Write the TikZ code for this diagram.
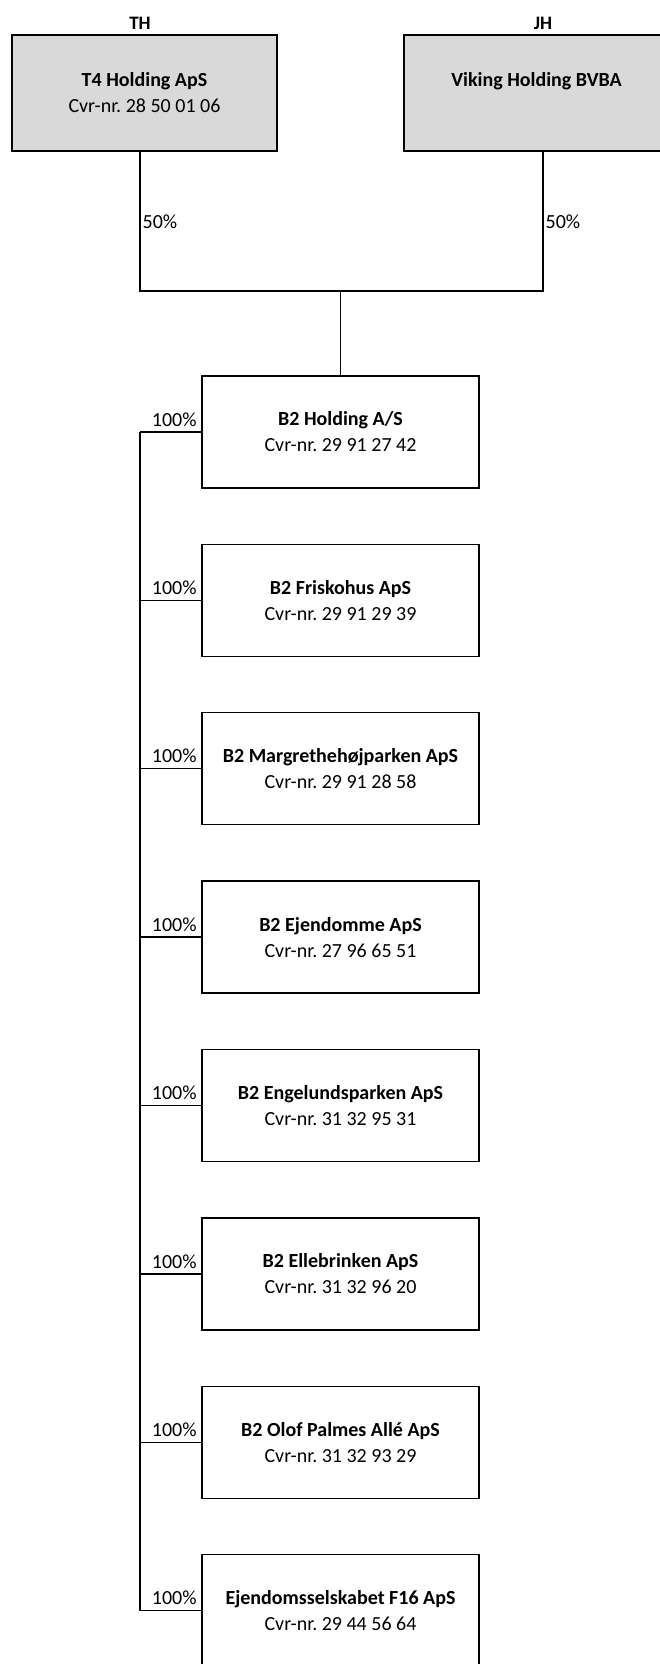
\documentclass[tikz,border=0pt]{standalone}
\usepackage{fontspec}
\setmainfont{Carlito}
\usepackage{tikz}
\usetikzlibrary{positioning, calc}

\begin{document}
\frenchspacing
\begin{tikzpicture}[
  x=1pt, y=1pt,
  every node/.style={font=\fontsize{20}{26}\selectfont, align=center},
  owner/.style={draw, line width=1.4pt, fill=black!15, minimum width=265pt,
                minimum height=116pt},
  firm/.style={draw, line width=1.4pt, fill=white, minimum width=277pt,
               minimum height=112pt},
  link/.style={line width=1.4pt},
  pct/.style={inner sep=2pt},
  pctl/.style={anchor=south east, inner sep=2pt, xshift=-2pt, yshift=3pt}
]
  \clip (0,0) rectangle (660,1664);

  % owners
  \node[font=\fontsize{19}{22}\selectfont\bfseries] (th) at (140,1641) {TH};
  \node[font=\fontsize{19}{22}\selectfont\bfseries] (jh) at (543,1641) {JH};
  \node[owner] (t4) at (144.5,1571) {\textbf{T4 Holding ApS}\\Cvr-nr. 28 50 01 06};
  \node[owner] (viking) at (536.5,1571) {\textbf{Viking Holding BVBA}\\\phantom{Cvr-nr. 28 50 01 06}};
  \coordinate (join) at (342,1373);

  % group
  \node[firm] (b2hold) at (340.5,1232) {\textbf{B2 Holding A/S}\\Cvr-nr. 29 91 27 42};
  \node[firm, below=55pt of b2hold] (frisko) {\textbf{B2 Friskohus ApS}\\Cvr-nr. 29 91 29 39};
  \node[firm, below=55pt of frisko] (margr) {\textbf{B2 Margrethehøjparken ApS}\\Cvr-nr. 29 91 28 58};
  \node[firm, below=55pt of margr] (ejend) {\textbf{B2 Ejendomme ApS}\\Cvr-nr. 27 96 65 51};
  \node[firm, below=55pt of ejend] (engel) {\textbf{B2 Engelundsparken ApS}\\Cvr-nr. 31 32 95 31};
  \node[firm, below=55pt of engel] (elleb) {\textbf{B2 Ellebrinken ApS}\\Cvr-nr. 31 32 96 20};
  \node[firm, below=55pt of elleb] (olof) {\textbf{B2 Olof Palmes Allé ApS}\\Cvr-nr. 31 32 93 29};
  \node[firm, below=55pt of olof] (f16) {\textbf{Ejendomsselskabet F16 ApS}\\Cvr-nr. 29 44 56 64};

  % ownership lines
  \draw[link] (th |- t4.south) -- node[pct, right]{50\%} (th |- join)
    -- (jh |- join) -- node[pct, right]{50\%} (jh |- viking.south);
  \draw[link] (b2hold.north |- join) -- (b2hold.north);

  \draw[link] (b2hold.west -| th) -- (f16.west -| th);
  \draw[link] (b2hold.west -| th) -- (b2hold.west) node[pctl]{100\%};
  \draw[link] (frisko.west -| th) -- (frisko.west) node[pctl]{100\%};
  \draw[link] (margr.west -| th) -- (margr.west) node[pctl]{100\%};
  \draw[link] (ejend.west -| th) -- (ejend.west) node[pctl]{100\%};
  \draw[link] (engel.west -| th) -- (engel.west) node[pctl]{100\%};
  \draw[link] (elleb.west -| th) -- (elleb.west) node[pctl]{100\%};
  \draw[link] (olof.west -| th) -- (olof.west) node[pctl]{100\%};
  \draw[link] (f16.west -| th) -- (f16.west) node[pctl]{100\%};
\end{tikzpicture}
\end{document}
